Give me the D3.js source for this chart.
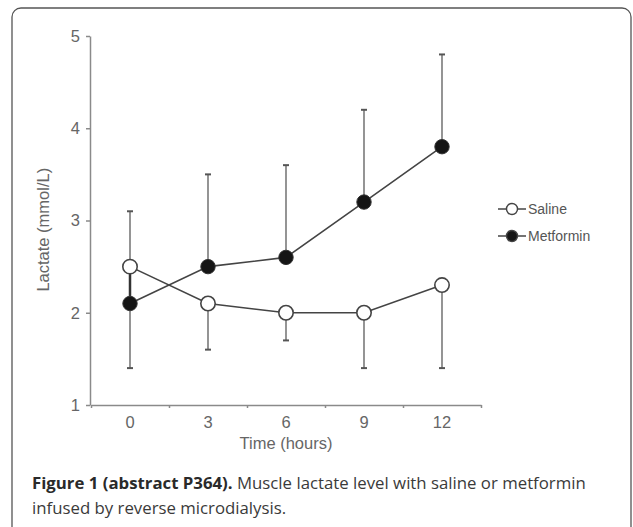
<!DOCTYPE html>
<html>
<head>
<meta charset="utf-8">
<script src="https://cdn.jsdelivr.net/npm/d3@7"></script>
<style>
  html, body { margin: 0; padding: 0; background: #fff; }
  svg { display: block; }
</style>
</head>
<body>
<svg id="chart" width="633" height="527"></svg>
<script>
// ---- data ----
const hours = [0, 3, 6, 9, 12];
const salineMean = [2.5, 2.1, 2.0, 2.0, 2.3];
const salineErr = [3.1, 1.6, 1.7, 1.4, 1.4];      // error bar end (one-sided)
const metforminMean = [2.1, 2.5, 2.6, 3.2, 3.8];
const metforminErr = [1.4, 3.5, 3.6, 4.2, 4.8];   // error bar end (one-sided)
const yTicks = [1, 2, 3, 4, 5];
const xTickLabels = [0, 3, 6, 9, 12];
const xMinorTicks = [-1.5, 1.5, 4.5, 7.5, 10.5, 13.5];
const seriesNames = ["Saline", "Metformin"];

const svg = d3.select("#chart");

// frame
svg.append("rect")
  .attr("x", 12).attr("y", 8)
  .attr("width", 619).attr("height", 530)
  .attr("rx", 9).attr("ry", 9)
  .attr("fill", "none").attr("stroke", "#555").attr("stroke-width", 1.3);

const x = d3.scaleLinear().domain([-1.5, 13.5]).range([91, 481]);
const y = d3.scaleLinear().domain([1, 5]).range([405, 36]);

const axisColor = "#8a8a8a";
const textColor = "#666";
const font = "'Liberation Sans', Arial, sans-serif";

// y axis
const yAxis = svg.append("g")
  .attr("transform", `translate(${x(-1.5) - 1},0)`)
  .call(d3.axisLeft(y).tickValues(yTicks).tickFormat(d3.format("d")).tickSize(4).tickSizeOuter(0).tickPadding(6));
yAxis.select(".domain").attr("stroke", axisColor).attr("stroke-width", 1.5);
yAxis.selectAll(".tick line").attr("stroke", axisColor).attr("stroke-width", 1.5);
yAxis.selectAll(".tick text").attr("fill", textColor).style("font-family", font).style("font-size", "16.5px");

// x axis (minor ticks only)
const xAxis = svg.append("g")
  .attr("transform", `translate(0,${y(1)})`)
  .call(d3.axisBottom(x).tickValues(xMinorTicks).tickFormat("").tickSize(3).tickSizeOuter(0));
xAxis.select(".domain").attr("stroke", axisColor).attr("stroke-width", 1.5);
xAxis.selectAll(".tick line").attr("stroke", axisColor).attr("stroke-width", 1.5);

svg.append("g").selectAll("text")
  .data(xTickLabels).join("text")
  .attr("x", d => x(d)).attr("y", y(1) + 23)
  .attr("text-anchor", "middle")
  .attr("fill", textColor)
  .style("font-family", font).style("font-size", "16.5px")
  .text(d => d);

// axis titles
svg.append("text")
  .attr("x", x(6)).attr("y", 449)
  .attr("text-anchor", "middle").attr("fill", textColor)
  .style("font-family", font).style("font-size", "16.5px")
  .text("Time (hours)");
svg.append("text")
  .attr("transform", `translate(49,${y(2.9)}) rotate(-90)`)
  .attr("text-anchor", "middle").attr("fill", textColor)
  .style("font-family", font).style("font-size", "16.5px")
  .text("Lactate (mmol/L)");

const saline = hours.map((h, i) => ({h, m: salineMean[i], e: salineErr[i]}));
const metformin = hours.map((h, i) => ({h, m: metforminMean[i], e: metforminErr[i]}));

// error bars
function drawErr(data) {
  const g = svg.append("g");
  g.selectAll("line.bar").data(data).join("line")
    .attr("x1", d => x(d.h)).attr("x2", d => x(d.h))
    .attr("y1", d => y(d.m)).attr("y2", d => y(d.e))
    .attr("stroke", "#7a7a7a").attr("stroke-width", 1.6);
  g.selectAll("line.cap").data(data).join("line")
    .attr("x1", d => x(d.h) - 3).attr("x2", d => x(d.h) + 3)
    .attr("y1", d => y(d.e)).attr("y2", d => y(d.e))
    .attr("stroke", "#555").attr("stroke-width", 2);
}
drawErr(saline);
drawErr(metformin);

// segment between the two time-0 markers (overlapping bars)
svg.append("line")
  .attr("x1", x(hours[0])).attr("x2", x(hours[0]))
  .attr("y1", y(salineMean[0])).attr("y2", y(metforminMean[0]))
  .attr("stroke", "#333").attr("stroke-width", 2.5);

const line = d3.line().x(d => x(d.h)).y(d => y(d.m));
[saline, metformin].forEach(s => {
  svg.append("path").datum(s).attr("d", line)
    .attr("fill", "none").attr("stroke", "#444").attr("stroke-width", 1.6);
});

// markers
svg.append("g").selectAll("circle").data(saline).join("circle")
  .attr("cx", d => x(d.h)).attr("cy", d => y(d.m)).attr("r", 7.2)
  .attr("fill", "#fff").attr("stroke", "#444").attr("stroke-width", 1.6);
svg.append("g").selectAll("circle").data(metformin).join("circle")
  .attr("cx", d => x(d.h)).attr("cy", d => y(d.m)).attr("r", 7.2)
  .attr("fill", "#151515").attr("stroke", "#333").attr("stroke-width", 1);

// legend
const legend = svg.append("g");
seriesNames.forEach((name, i) => {
  const ly = 209 + i * 27;
  const g = legend.append("g");
  g.append("line").attr("x1", 498).attr("x2", 526).attr("y1", ly).attr("y2", ly)
    .attr("stroke", "#444").attr("stroke-width", 1.5);
  g.append("circle").attr("cx", 512).attr("cy", ly).attr("r", 5.5)
    .attr("fill", i === 0 ? "#fff" : "#151515").attr("stroke", "#444").attr("stroke-width", 1.4);
  g.append("text").attr("x", 528).attr("y", ly + 5)
    .attr("fill", "#555")
    .style("font-family", font).style("font-size", "14px")
    .text(name);
});

// caption
const capFont = "'Open Sans', 'Noto Sans', sans-serif";
const cap = svg.append("text")
  .attr("x", 32).attr("y", 489)
  .attr("fill", "#3a3a3a")
  .style("font-family", capFont).style("font-size", "16.8px");
cap.append("tspan").attr("font-weight", "bold").attr("fill", "#2a2a2a").text("Figure 1 (abstract P364).");
cap.append("tspan").text(" Muscle lactate level with saline or metformin");
svg.append("text")
  .attr("x", 32).attr("y", 514)
  .attr("fill", "#3a3a3a")
  .style("font-family", capFont).style("font-size", "16.8px")
  .text("infused by reverse microdialysis.");
</script>
</body>
</html>
